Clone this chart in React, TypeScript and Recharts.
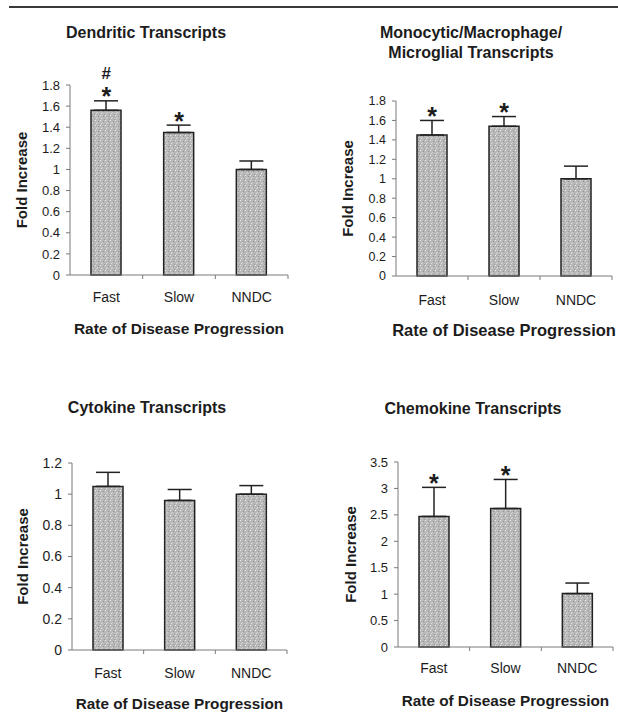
import React from 'react';
import { ComposedChart, Bar, Line, ErrorBar, LabelList, XAxis, YAxis } from 'recharts';

const FONT = '"Liberation Sans", Arial, Helvetica, sans-serif';
const INK = '#1c1c1c';
const AXIS = '#7a7a7a';

const groups = ['Fast', 'Slow', 'NNDC'];

// dendritic
const dendriticMean = [1.56, 1.35, 1.0];
const dendriticErr = [0.09, 0.07, 0.08];
const dendriticNotes = ['#\n*', '*', ''];
const ticks0to18 = [0, 0.2, 0.4, 0.6, 0.8, 1, 1.2, 1.4, 1.6, 1.8];

// monocytic / macrophage / microglial
const monoMean = [1.45, 1.54, 1.0];
const monoErr = [0.15, 0.1, 0.13];
const monoNotes = ['*', '*', ''];

// cytokine
const cytokineMean = [1.05, 0.96, 1.0];
const cytokineErr = [0.09, 0.07, 0.055];
const cytokineNotes = ['', '', ''];
const ticks0to12 = [0, 0.2, 0.4, 0.6, 0.8, 1, 1.2];

// chemokine
const chemokineMean = [2.47, 2.62, 1.01];
const chemokineErr = [0.55, 0.55, 0.2];
const chemokineNotes = ['*', '*', ''];
const ticks0to35 = [0, 0.5, 1, 1.5, 2, 2.5, 3, 3.5];

const buildRows = (mean: number[], err: number[], notes: string[]) =>
  groups.map((g, i) => ({ group: g, mean: mean[i], err: [0, err[i]], top: mean[i] + err[i], note: notes[i] }));

const CatTick = (props: any) => {
  const { x, y, payload, dy, fontSize } = props;
  const half = payload.offset ?? 0;
  const isFirst = payload.value === groups[0];
  const isLast = payload.value === groups[groups.length - 1];
  return (
    <g>
      {!isFirst && <line x1={x - half} y1={y} x2={x - half} y2={y + 4} stroke={AXIS} />}
      {isLast && <line x1={x + half} y1={y} x2={x + half} y2={y + 4} stroke={AXIS} />}
      <text x={x} y={y + dy} textAnchor="middle" fontSize={fontSize} fill={INK} fontFamily={FONT}>
        {payload.value}
      </text>
    </g>
  );
};

// stars (and the # above the first one) sit just over the error bar cap
const Note = (props: any) => {
  const { x, y, value } = props;
  if (!value) return null;
  const lines = String(value).split('\n').reverse();
  return (
    <g>
      {lines.map((s, i) =>
        s === '*' ? (
          <text key={i} x={x} y={y + 4.5} textAnchor="middle" fontSize={25} fontWeight="bold" fill={INK} fontFamily={FONT}>
            *
          </text>
        ) : (
          <text key={i} x={x} y={y - 22} textAnchor="middle" fontSize={17} fontWeight="bold" fill={INK} fontFamily={FONT}>
            {s}
          </text>
        )
      )}
    </g>
  );
};

type PanelProps = {
  id: string;
  left: number;
  top: number;
  width: number;
  height: number;
  margin: { top: number; right: number; bottom: number; left: number };
  rows: any[];
  domain: [number, number];
  ticks: number[];
  yTickFont: number;
  yLabelOffset: number;
  yLabelFont: number;
  xAxisHeight: number;
  xTickDy: number;
  xTitleOffset: number;
  xTitleFont: number;
};

function Panel(p: PanelProps) {
  return (
    <div style={{ position: 'absolute', left: p.left, top: p.top }}>
      <ComposedChart width={p.width} height={p.height} data={p.rows} margin={p.margin}>
        <defs>
          <pattern id={`stip-${p.id}`} width="5" height="5" patternUnits="userSpaceOnUse">
            <rect width="5" height="5" fill="#b8b8b8" />
            <rect x="0" y="0" width="1" height="1" fill="#ececec" />
            <rect x="3" y="1" width="1" height="1" fill="#939393" />
            <rect x="1" y="3" width="1" height="1" fill="#dedede" />
            <rect x="4" y="4" width="1" height="1" fill="#9c9c9c" />
            <rect x="2" y="2" width="1" height="1" fill="#cfcfcf" />
          </pattern>
        </defs>
        <XAxis
          dataKey="group"
          height={p.xAxisHeight}
          stroke={AXIS}
          tickLine={false}
          tickSize={0}
          tickMargin={0}
          interval={0}
          tick={<CatTick dy={p.xTickDy} fontSize={14} />}
          label={{
            value: 'Rate of Disease Progression',
            position: 'insideBottom',
            offset: p.xTitleOffset,
            style: { fontFamily: FONT, fontWeight: 'bold', fontSize: p.xTitleFont, fill: INK },
          }}
        />
        <YAxis
          width={50}
          domain={p.domain}
          ticks={p.ticks}
          interval={0}
          stroke={AXIS}
          tickSize={4}
          tickMargin={6}
          tick={{ fontSize: p.yTickFont, fill: INK, fontFamily: FONT }}
          label={{
            value: 'Fold Increase',
            angle: -90,
            position: 'insideLeft',
            offset: p.yLabelOffset,
            style: { textAnchor: 'middle', fontFamily: FONT, fontWeight: 'bold', fontSize: p.yLabelFont, fill: INK },
          }}
        />
        <Bar dataKey="mean" barSize={30} fill={`url(#stip-${p.id})`} stroke="#222" strokeWidth={1.5} isAnimationActive={false}>
          <ErrorBar dataKey="err" direction="y" width={12} stroke="#222" strokeWidth={1.5} />
        </Bar>
        <Line dataKey="top" stroke="none" dot={false} activeDot={false} legendType="none" isAnimationActive={false}>
          <LabelList dataKey="note" content={<Note />} />
        </Line>
      </ComposedChart>
    </div>
  );
}

const titleStyle: React.CSSProperties = {
  position: 'absolute',
  transform: 'translate(-50%, -50%)',
  fontFamily: FONT,
  fontWeight: 'bold',
  fontSize: 16,
  color: INK,
  whiteSpace: 'nowrap',
  lineHeight: '20px',
  textAlign: 'center',
};

export default function App() {
  return (
    <div style={{ position: 'absolute', left: 0, top: 0, width: 618, height: 723, background: '#fff', overflow: 'hidden' }}>
      <div style={{ position: 'absolute', left: 9, right: 0, top: 6, height: 2, background: '#3a3a3a' }} />

      <div style={{ ...titleStyle, left: 146, top: 33 }}>Dendritic Transcripts</div>
      <div style={{ ...titleStyle, left: 471, top: 43 }}>
        Monocytic/Macrophage/
        <br />
        Microglial Transcripts
      </div>
      <div style={{ ...titleStyle, left: 147, top: 408 }}>Cytokine Transcripts</div>
      <div style={{ ...titleStyle, left: 473, top: 409 }}>Chemokine Transcripts</div>

      <Panel
        id="a"
        left={0}
        top={0}
        width={310}
        height={340}
        margin={{ top: 85, right: 22, bottom: 0, left: 20 }}
        rows={buildRows(dendriticMean, dendriticErr, dendriticNotes)}
        domain={[0, 1.8]}
        ticks={ticks0to18}
        yTickFont={13}
        yLabelOffset={2}
        yLabelFont={15}
        xAxisHeight={65}
        xTickDy={27}
        xTitleOffset={6.5}
        xTitleFont={15.5}
      />
      <Panel
        id="b"
        left={310}
        top={0}
        width={308}
        height={340}
        margin={{ top: 101, right: 6, bottom: 0, left: 36 }}
        rows={buildRows(monoMean, monoErr, monoNotes)}
        domain={[0, 1.8]}
        ticks={ticks0to18}
        yTickFont={12.5}
        yLabelOffset={2}
        yLabelFont={15}
        xAxisHeight={64}
        xTickDy={29}
        xTitleOffset={4}
        xTitleFont={16.5}
      />
      <Panel
        id="c"
        left={0}
        top={380}
        width={310}
        height={343}
        margin={{ top: 83, right: 23, bottom: 0, left: 22 }}
        rows={buildRows(cytokineMean, cytokineErr, cytokineNotes)}
        domain={[0, 1.2]}
        ticks={ticks0to12}
        yTickFont={14}
        yLabelOffset={1}
        yLabelFont={15}
        xAxisHeight={73}
        xTickDy={28}
        xTitleOffset={14.5}
        xTitleFont={15.3}
      />
      <Panel
        id="d"
        left={310}
        top={380}
        width={308}
        height={343}
        margin={{ top: 82, right: 5, bottom: 0, left: 38 }}
        rows={buildRows(chemokineMean, chemokineErr, chemokineNotes)}
        domain={[0, 3.5]}
        ticks={ticks0to35}
        yTickFont={13}
        yLabelOffset={2.5}
        yLabelFont={15}
        xAxisHeight={76}
        xTickDy={26}
        xTitleOffset={17.5}
        xTitleFont={15.3}
      />
    </div>
  );
}
